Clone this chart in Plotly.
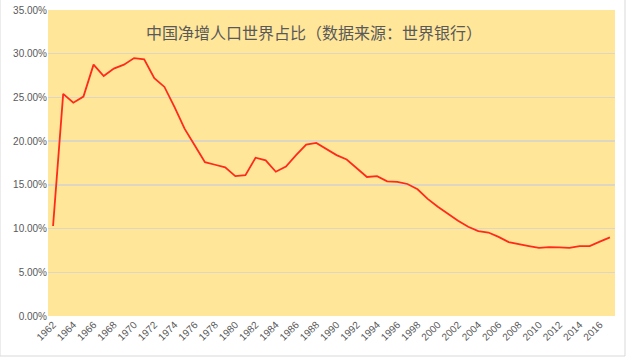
import plotly.graph_objects as go

years = [str(y) for y in range(1962, 2018)]
share = [
    10.3, 25.4, 24.4, 25.1, 28.75, 27.45, 28.3, 28.75, 29.5, 29.36,
    27.2, 26.2, 23.9, 21.4, 19.5, 17.6, 17.3, 17.0, 16.0, 16.1,
    18.1, 17.8, 16.5, 17.1, 18.4, 19.6, 19.8, 19.1, 18.4, 17.9,
    16.9, 15.9, 16.0, 15.4, 15.35, 15.1, 14.5, 13.4, 12.5, 11.65,
    10.9, 10.2, 9.7, 9.55, 9.05, 8.45, 8.2, 8.0, 7.8, 7.88,
    7.84, 7.8, 8.0, 8.0, 8.5, 9.0,
]
share_frac = [v / 100 for v in share]
x_tick_labels = [str(y) for y in range(1962, 2018, 2)]
y_tick_vals = [0, 0.05, 0.10, 0.15, 0.20, 0.25, 0.30, 0.35]
title_text = "中国净增人口世界占比（数据来源：世界银行）"

fig = go.Figure()
fig.add_trace(go.Scatter(
    x=years, y=share_frac, mode="lines",
    line=dict(color="#FF2A1A", width=1.8),
    hoverinfo="skip", showlegend=False,
))

fig.update_layout(
    width=630, height=357,
    margin=dict(l=48, r=15, t=10, b=41, autoexpand=False),
    paper_bgcolor="white",
    plot_bgcolor="#FFE699",
    font=dict(family="Liberation Sans, Arial, sans-serif", size=10, color="#595959"),
    xaxis=dict(
        type="category",
        range=[-0.5, len(years) - 0.5],
        tickmode="array",
        tickvals=x_tick_labels,
        ticktext=x_tick_labels,
        tickangle=-45,
        showgrid=False,
        showline=False,
        ticks="",
        automargin=False,
        tickfont=dict(size=10, color="#595959"),
    ),
    yaxis=dict(
        range=[0, 0.35],
        tickvals=y_tick_vals,
        tickformat=".2%",
        showgrid=True,
        gridcolor="#DDD6C2",
        gridwidth=1.5,
        zeroline=False,
        showline=False,
        ticks="",
        automargin=False,
        tickfont=dict(size=10, color="#595959"),
    ),
    annotations=[dict(
        text=title_text, xref="paper", yref="paper",
        x=0.469, y=0.928, xanchor="center", yanchor="middle",
        showarrow=False,
        font=dict(family="Noto Sans CJK SC", size=16, color="#595959"),
    )],
    shapes=[dict(
        type="rect", xref="paper", yref="paper",
        x0=-48 / 567, x1=(625 - 48) / 567,
        y0=-40 / 306, y1=(357 - 10 + 0.5) / 306,
        line=dict(color="#D9D9D9", width=1), fillcolor="rgba(0,0,0,0)",
        layer="below",
    )],
)

fig.write_html(
    "out.html",
    config={"displayModeBar": False, "staticPlot": True},
    post_script="document.body.style.margin='0';document.body.style.overflow='hidden';",
)
